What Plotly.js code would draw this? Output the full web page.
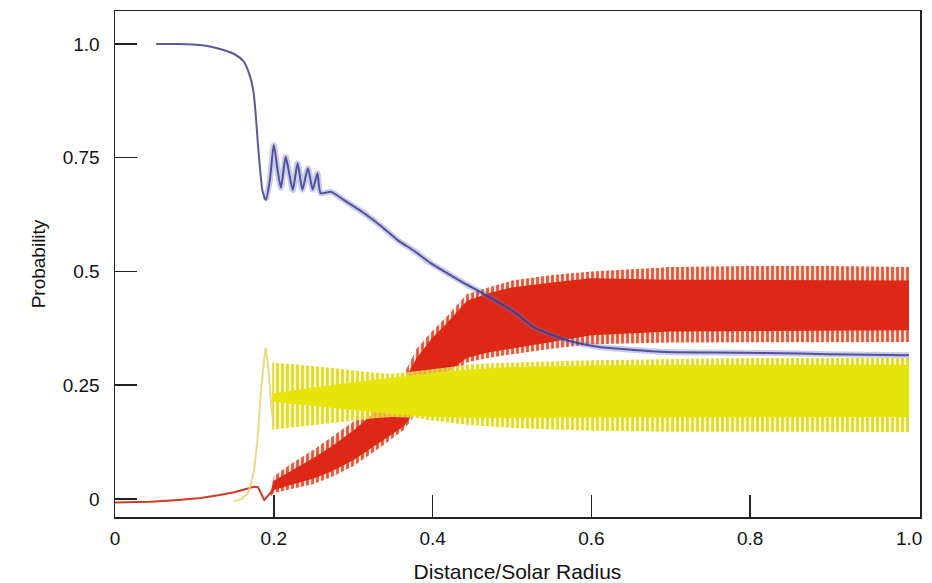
<!DOCTYPE html>
<html>
<head>
<meta charset="utf-8">
<script src="https://cdn.plot.ly/plotly-3.0.1.min.js"></script>
<style>html,body{margin:0;padding:0;background:#fff}#chart{width:932px;height:583px}</style>
</head>
<body>
<div id="chart"></div>
<script>
// ---- Data ----
// Blue curve (electron-neutrino survival probability)
const blueX = [0.052,0.08,0.11,0.13,0.15,0.162,0.169,0.174,0.177,0.18,0.183,0.186,0.19,0.195,0.2,0.205,0.209,0.215,0.22,0.224,0.23,0.236,0.243,0.249,0.255,0.259,0.272,0.29,0.313,0.335,0.356,0.377,0.397,0.418,0.439,0.46,0.482,0.502,0.527,0.548,0.569,0.59,0.61,0.65,0.694,0.75,0.82,0.9,1.0];
const blueY = [1.0,1.0,0.997,0.99,0.978,0.962,0.935,0.9,0.85,0.78,0.72,0.675,0.657,0.7,0.778,0.72,0.684,0.752,0.71,0.679,0.738,0.68,0.727,0.68,0.716,0.672,0.675,0.655,0.629,0.6,0.569,0.545,0.519,0.497,0.475,0.455,0.433,0.412,0.378,0.362,0.349,0.34,0.334,0.328,0.323,0.322,0.321,0.318,0.316];

// Red curve, smooth start before the band
const redLineX = [-0.05,0.0,0.045,0.08,0.108,0.13,0.15,0.165,0.175,0.18,0.184,0.188,0.192,0.196,0.2];
const redLineY = [-0.01,-0.008,-0.006,-0.002,0.002,0.008,0.015,0.022,0.027,0.026,0.012,-0.002,0.006,0.014,0.025];

// Red band: outer (oscillation extremes) and inner (dense core) envelopes
const redX      = [0.196,0.2,0.22,0.25,0.272,0.3,0.33,0.364,0.38,0.4,0.42,0.443,0.47,0.5,0.55,0.6,0.7,0.8,0.9,1.0];
const redOuterU = [0.015,0.05,0.075,0.108,0.135,0.17,0.215,0.275,0.33,0.37,0.405,0.45,0.465,0.48,0.492,0.5,0.51,0.512,0.512,0.51];
const redOuterL = [0.005,0.013,0.02,0.033,0.048,0.072,0.108,0.152,0.19,0.23,0.27,0.3,0.31,0.318,0.33,0.34,0.344,0.345,0.345,0.345];
const redInnerU = [0.012,0.04,0.06,0.09,0.115,0.15,0.195,0.26,0.31,0.355,0.39,0.435,0.452,0.465,0.476,0.485,0.482,0.481,0.481,0.48];
const redInnerL = [0.008,0.02,0.03,0.045,0.06,0.085,0.12,0.16,0.2,0.24,0.28,0.31,0.322,0.33,0.345,0.36,0.368,0.37,0.37,0.371];

// Yellow curve, smooth start before the band
const yelLineX = [0.15,0.16,0.168,0.175,0.18,0.184,0.188,0.19,0.193,0.197,0.2];
const yelLineY = [-0.005,0.0,0.015,0.06,0.14,0.24,0.31,0.332,0.29,0.2,0.16];

// Yellow band: outer (oscillation extremes) and inner (dense core) envelopes
const yelX      = [0.198,0.22,0.25,0.28,0.3,0.33,0.35,0.38,0.4,0.45,0.5,0.6,0.7,0.8,0.9,1.0];
const yelOuterU = [0.3,0.297,0.292,0.287,0.283,0.277,0.275,0.28,0.285,0.296,0.3,0.305,0.308,0.31,0.31,0.31];
const yelOuterL = [0.152,0.156,0.162,0.168,0.172,0.178,0.18,0.178,0.172,0.162,0.156,0.15,0.148,0.147,0.147,0.147];
const yelInnerU = [0.232,0.238,0.245,0.252,0.256,0.262,0.266,0.272,0.277,0.285,0.29,0.294,0.295,0.295,0.295,0.295];
const yelInnerL = [0.214,0.21,0.205,0.2,0.196,0.19,0.186,0.182,0.18,0.178,0.178,0.179,0.18,0.18,0.18,0.18];

// Tick labels
const xTickVals = [0,0.2,0.4,0.6,0.8];
const xTickText = ['0','0.2','0.4','0.6','0.8'];
const yTickVals = [0,0.25,0.5,0.75,1.0];
const yTickText = ['0','0.25','0.5','0.75','1.0'];

// ---- Build traces ----
function band(xs, upper, lower, style) {
  return Object.assign({
    type: 'scatter', mode: 'lines',
    x: xs.concat(xs.slice().reverse()),
    y: upper.concat(lower.slice().reverse()),
    fill: 'toself', line: {width: 0}, hoverinfo: 'skip', showlegend: false
  }, style);
}

// part of the blue curve where it oscillates densely (drawn as a fuzzy halo)
const fuzzIdx = blueX.map((v, i) => i).filter(i => blueX[i] >= 0.19);
const blueFuzzX = fuzzIdx.map(i => blueX[i]);
const blueFuzzY = fuzzIdx.map(i => blueY[i]);

const traces = [
  band(redX, redOuterU, redOuterL, {
    fillcolor: 'rgba(245,170,140,0.55)',
    fillpattern: {shape: '|', fgcolor: 'rgba(225,70,40,0.9)', bgcolor: 'rgba(250,205,185,0.5)', size: 5, solidity: 0.55}
  }),
  band(redX, redInnerU, redInnerL, {fillcolor: 'rgb(220,40,20)'}),
  {type:'scatter', mode:'lines', x: redLineX, y: redLineY, line:{color:'rgb(205,60,40)', width:2}, showlegend:false},
  band(yelX, yelOuterU, yelOuterL, {
    fillcolor: 'rgba(240,235,120,0.6)',
    fillpattern: {shape: '|', fgcolor: 'rgba(225,215,30,0.95)', bgcolor: 'rgba(248,245,170,0.6)', size: 5, solidity: 0.55}
  }),
  band(yelX, yelInnerU, yelInnerL, {fillcolor: 'rgb(230,228,10)'}),
  {type:'scatter', mode:'lines', x: yelLineX, y: yelLineY, line:{color:'rgba(225,215,120,0.9)', width:2}, showlegend:false},
  {type:'scatter', mode:'lines', x: blueFuzzX, y: blueFuzzY, line:{color:'rgba(110,110,200,0.35)', width:6, shape:'spline', smoothing:0.6}, showlegend:false},
  {type:'scatter', mode:'lines', x: blueX, y: blueY, line:{color:'rgba(60,60,140,0.85)', width:2, shape:'spline', smoothing:0.6, dash:'solid'}, showlegend:false}
];

const font = {family: 'Liberation Sans, Arial, sans-serif', size: 19, color: '#111'};
const xTitleFont = {family: 'Liberation Sans, Arial, sans-serif', size: 21, color: '#111'};

const layout = {
  width: 932, height: 583,
  margin: {l: 115, r: 12, t: 11, b: 66},
  paper_bgcolor: '#fff', plot_bgcolor: '#fff',
  font: font,
  showlegend: false,
  xaxis: {
    range: [0, 1.0139], showgrid: false, zeroline: false,
    showline: true, linecolor: '#222', linewidth: 1.5, mirror: true,
    ticks: 'inside', ticklen: 22, tickwidth: 1.5, tickcolor: '#222',
    tickmode: 'array', tickvals: xTickVals, ticktext: xTickText,
    tickfont: font, ticklabelstandoff: 4,
    title: {text: 'Distance/Solar Radius', font: xTitleFont, standoff: 29}
  },
  yaxis: {
    range: [-0.0396, 1.0725], showgrid: false, zeroline: false,
    showline: true, linecolor: '#222', linewidth: 1.5, mirror: true,
    ticks: 'inside', ticklen: 22, tickwidth: 1.5, tickcolor: '#222',
    tickmode: 'array', tickvals: yTickVals, ticktext: yTickText,
    tickfont: font, ticklabelstandoff: 10,
    title: {text: 'Probability', font: font, standoff: 12}
  },
  annotations: [
    {xref: 'x', yref: 'paper', x: 1.0, y: 0, yshift: -9, text: '1.0', showarrow: false,
     xanchor: 'center', yanchor: 'top', font: font}
  ]
};

Plotly.newPlot('chart', traces, layout, {staticPlot: true, displayModeBar: false});
</script>
</body>
</html>
